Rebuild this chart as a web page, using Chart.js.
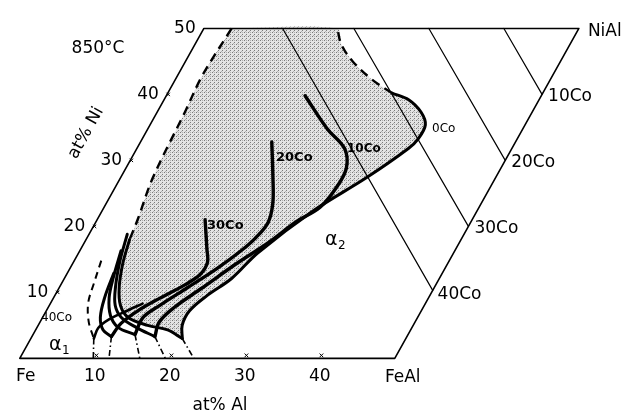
<!DOCTYPE html>
<html><head><meta charset="utf-8">
<script src="https://cdn.jsdelivr.net/npm/chart.js@4/dist/chart.umd.min.js"></script>
<style>html,body{margin:0;padding:0;background:#fff;}canvas{display:block;}</style>
</head><body>
<canvas id="c" width="635" height="418"></canvas>
<script>
// All points are [at% Al, at% Ni]
const frame = [[0,0],[50,0],[50,50],[0,50],[0,0]];
const alTicks = [10,20,30,40];
const niTicks = [10,20,30,40,50];
const coLevels = [10,20,30,40];
const coLine10 = [[40,50],[50,40]];
const coLine20 = [[30,50],[50,30]];
const coLine30 = [[20,50],[50,20]];
const coLine40 = [[10.5,50],[50,10.3]];

const alpha1_0Co_dashed = [[3.7,50],[3.3,42.8],[3.7,37.3],[4.3,27.4],[5.4,21.0],[5.8,18.0]];
const alpha1_0Co = [[5.8,18.0],[6.7,14.3],[8.0,10.7],[9.5,8.0],[11.4,6.2],[14.6,5.0],[17.6,4.3],[20.2,3.0]];
const alpha2_0Co = [[20.2,3.0],[19.2,5.0],[19.1,7.2],[20.3,9.5],[22.3,12.1],[23.9,16.0],[28.1,22.3],[32.8,27.4],[36.2,31.8],[36.8,33.3],[36.7,35.4],[35.2,37.3],[32.6,39.2],[29.9,40.2]];
const alpha2_0Co_dashed = [[29.9,40.2],[26.3,42.2],[22.3,45.0],[19.5,47.6],[17.8,50]];
const order_0Co = [[20.2,3.0],[23.2,0]];

const alpha2_10Co = [[18.5,39.8],[23.9,34.8],[27.7,31.8],[29.4,28.8],[29.5,25.9],[28.8,22.9],[26.7,20.7],[24.6,17.6],[21.8,14.3],[19.1,10.7],[16.8,7.7],[15.9,5.5],[16.4,3.3]];
const alpha1_10Co = [[5.1,18.8],[6.1,14.8],[7.5,10.7],[8.8,8.0],[10.5,6.2],[13.2,4.7],[16.4,3.3]];
const order_10Co = [[16.4,3.3],[19.4,0]];

const alpha2_20Co = [[17.5,32.8],[20.3,27.4],[22.2,23.5],[23.0,20.6],[22.5,18.3],[21.5,16.3],[19.6,13.6],[17.1,10.7],[14.8,8.1],[13.4,6.2],[13.6,3.6]];
const alpha1_20Co = [[5.5,16.3],[6.5,12.1],[7.4,9.2],[8.9,6.5],[10.8,4.7],[13.6,3.6]];
const order_20Co = [[13.6,3.6],[16.0,0]];

const alpha2_30Co = [[14.4,21.0],[16.8,16.6],[17.9,14.5],[17.8,12.7],[16.5,11.1],[14.3,9.2],[12.2,7.2],[10.9,5.3],[10.6,3.3]];
const alpha1_30Co = [[6.2,12.9],[6.8,9.2],[7.7,6.2],[9.0,4.3],[10.6,3.3]];
const order_30Co = [[10.6,3.3],[11.9,0]];

const alpha1_40Co_dashed = [[3.6,14.8],[4.3,11.4],[5.0,8.4],[6.5,5.5],[8.4,3.0]];
const alpha2_40Co = [[8.4,3.0],[8.2,4.6],[9.0,5.9],[10.6,7.1],[12.3,8.3]];
const order_40Co = [[8.4,3.0],[9.8,0]];

// drawing constants
const SKEW = 0.491;           // horizontal shift per at% Ni (oblique Ni axis)
const PX_AL = 7.62, PX_NI = 6.76, X0 = 15, Y0 = 362, W = 635, H = 418;

const P = ([al, ni]) => ({x: al + SKEW * ni, y: ni});

function stipple() {
  const c = document.createElement('canvas');
  c.width = 4; c.height = 4;
  const g = c.getContext('2d');
  g.fillStyle = '#e4e4e4'; g.fillRect(0,0,4,4);
  g.fillStyle = '#7a7a7a';
  g.fillRect(0,0,1,1); g.fillRect(2,2,1,1);
  g.fillStyle = '#b0b0b0'; g.fillRect(2,0,1,1); g.fillRect(1,3,1,1);
  return g.createPattern(c, 'repeat');
}

function line(pts, o) {
  return Object.assign({data: pts.map(P), showLine: true, pointRadius: 0, borderColor: '#000',
    borderWidth: 3, tension: 0.35, fill: false, order: 1, borderCapStyle: 'round', borderJoinStyle: 'round'}, o || {});
}
const DASH = [9, 6], DASHDOT = [6, 3, 1.5, 3];

const shade = [].concat(alpha1_0Co_dashed, alpha1_0Co, alpha2_0Co, alpha2_0Co_dashed, [[3.7,50]]);

const datasets = [
  line(shade, {borderWidth: 0, borderColor: 'rgba(0,0,0,0)', backgroundColor: stipple(), fill: 'shape', order: 10, tension: 0.3}),
  line(frame, {borderWidth: 1.6, tension: 0}),
  line(coLine10, {borderWidth: 1.2, tension: 0}),
  line(coLine20, {borderWidth: 1.2, tension: 0}),
  line(coLine30, {borderWidth: 1.2, tension: 0}),
  line(coLine40, {borderWidth: 1.2, tension: 0}),
  line(alpha1_0Co_dashed, {borderDash: DASH, borderWidth: 2.4, borderCapStyle: 'butt'}),
  line(alpha1_0Co),
  line(alpha2_0Co),
  line(alpha2_0Co_dashed, {borderDash: DASH, borderWidth: 2.4, borderCapStyle: 'butt'}),
  line(order_0Co, {borderDash: DASHDOT, borderWidth: 1.6, tension: 0, borderCapStyle: 'butt'}),
  line(alpha2_10Co, {borderWidth: 3.4}),
  line(alpha1_10Co),
  line(order_10Co, {borderDash: DASHDOT, borderWidth: 1.6, tension: 0, borderCapStyle: 'butt'}),
  line(alpha2_20Co, {borderWidth: 3.4}),
  line(alpha1_20Co),
  line(order_20Co, {borderDash: DASHDOT, borderWidth: 1.6, tension: 0, borderCapStyle: 'butt'}),
  line(alpha2_30Co, {borderWidth: 3.4}),
  line(alpha1_30Co),
  line(order_30Co, {borderDash: DASHDOT, borderWidth: 1.6, tension: 0, borderCapStyle: 'butt'}),
  line(alpha1_40Co_dashed, {borderDash: [7, 5], borderWidth: 2, borderCapStyle: 'butt'}),
  line(alpha2_40Co, {borderWidth: 2.6}),
  line(order_40Co, {borderDash: DASHDOT, borderWidth: 1.6, tension: 0, borderCapStyle: 'butt'}),
  {data: alTicks.map(v => P([v, 0.45])), showLine: false, pointStyle: 'crossRot', pointRadius: 2.6,
   borderColor: '#000', borderWidth: 1, order: 0},
  {data: niTicks.slice(0,4).map(v => P([0.15, v])), showLine: false, pointStyle: 'crossRot', pointRadius: 2.4,
   borderColor: '#000', borderWidth: 1, order: 0}
];

const FONT = '"DejaVu Sans", "Liberation Sans", sans-serif';
const labelPlugin = {
  id: 'labels',
  afterDatasetsDraw(chart) {
    const {ctx, scales: {x, y}} = chart;
    const pt = (al, ni) => [x.getPixelForValue(al + SKEW * ni), y.getPixelForValue(ni)];
    const txt = (s, px, py, size, align, weight, rot) => {
      ctx.save();
      ctx.translate(px, py);
      if (rot) ctx.rotate(rot);
      ctx.font = (weight || 'normal') + ' ' + size + 'px ' + FONT;
      ctx.textAlign = align || 'center';
      ctx.textBaseline = 'middle';
      ctx.fillStyle = '#000';
      ctx.fillText(s, 0, 0);
      ctx.restore();
    };
    alTicks.forEach(v => { const [a, b] = pt(v, 0); txt(String(v), a, b + 18, 17); });
    niTicks.forEach(v => { const [a, b] = pt(0, v); txt(String(v), a - 19, b, 17); });
    coLevels.forEach(c => { const [a, b] = pt(50, 50 - c); txt(c + 'Co', a + 6, b + 2, 17, 'left'); });
    { const [a, b] = pt(0, 0); txt('Fe', a + 6, b + 18, 17); }
    { const [a, b] = pt(50, 0); txt('FeAl', a + 8, b + 19, 17); }
    { const [a, b] = pt(50, 50); txt('NiAl', a + 9, b + 3, 17, 'left'); }
    txt('850°C', 98, 49, 17);
    txt('at% Al', 220, 406, 17);
    txt('at% Ni', 86, 133, 17, 'center', 'normal', -61 * Math.PI / 180);
    txt('0Co', 432, 129, 12, 'left');
    txt('10Co', 347, 149, 12, 'left', 'bold');
    txt('20Co', 276, 158, 13, 'left', 'bold');
    txt('30Co', 207, 226, 13, 'left', 'bold');
    txt('40Co', 41, 318, 12, 'left');
    txt('α', 325, 240, 19, 'left');
    txt('2', 338, 246, 12, 'left');
    txt('α', 49, 345, 19, 'left');
    txt('1', 62, 351, 12, 'left');
  }
};

new Chart(document.getElementById('c'), {
  type: 'scatter',
  data: {datasets},
  options: {
    responsive: false, animation: false, devicePixelRatio: 1,
    layout: {padding: 0},
    plugins: {legend: {display: false}, tooltip: {enabled: false}},
    scales: {
      x: {type: 'linear', display: false, min: -X0 / PX_AL, max: (W - X0) / PX_AL},
      y: {type: 'linear', display: false, min: -(H - Y0) / PX_NI, max: Y0 / PX_NI}
    }
  },
  plugins: [labelPlugin]
});
</script>
</body></html>
